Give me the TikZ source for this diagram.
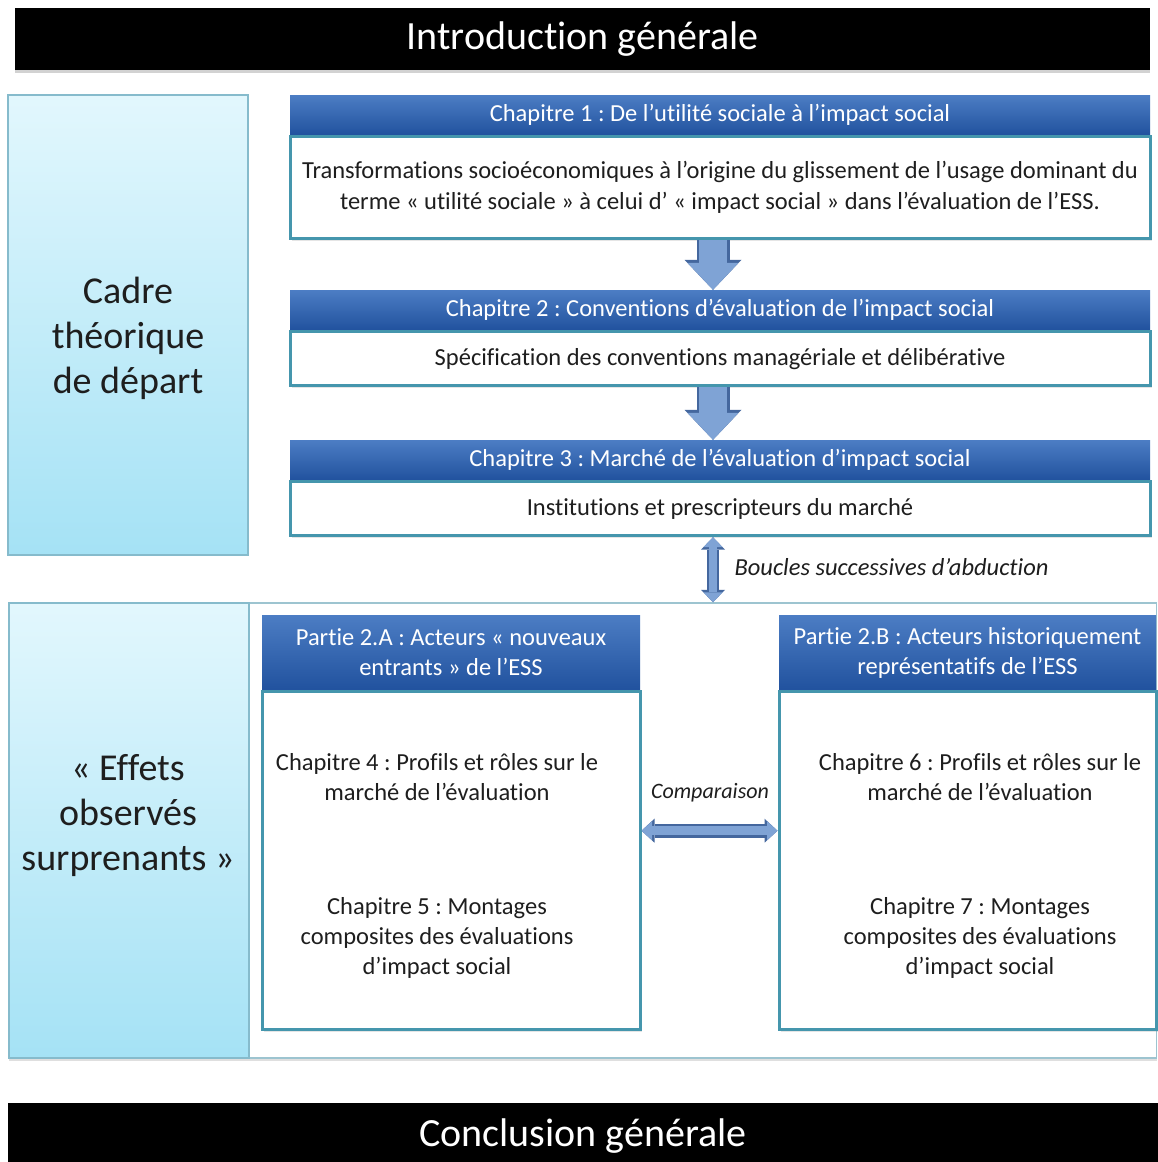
\documentclass[tikz,border=0pt]{standalone}
\usepackage{fontspec}
\setmainfont{Carlito}[Ligatures=NoCommon]
\usetikzlibrary{positioning,arrows.meta,shadows}
\frenchspacing

\definecolor{hdrtop}{HTML}{4C7DC4}
\definecolor{hdrbot}{HTML}{21529E}
\definecolor{bodyline}{HTML}{4596AD}
\definecolor{cyantop}{HTML}{E2F7FD}
\definecolor{cyanbot}{HTML}{A5E2F5}
\definecolor{cyanline}{HTML}{86BBCC}
\definecolor{framecol}{HTML}{9DC4D0}
\definecolor{arrfill}{HTML}{7FA3D5}
\definecolor{arrline}{HTML}{44679E}
\definecolor{txtgrey}{HTML}{1E1E1E}

\tikzset{
  bar/.style={fill=black, text=white, inner sep=0pt, font=\fontsize{40}{45}\selectfont,
    drop shadow={opacity=.35, shadow xshift=0pt, shadow yshift=-3pt}},
  side/.style={draw=cyanline, line width=1.2pt, top color=cyantop, bottom color=cyanbot,
    minimum width=240pt, inner sep=0pt},
  bigtxt/.style={align=center, text=txtgrey, font=\fontsize{38}{45}\selectfont},
  hdr/.style={top color=hdrtop, bottom color=hdrbot, text=white, align=center,
    inner sep=0pt, font=\fontsize{24.5}{30}\selectfont},
  chbody/.style={draw=bodyline, line width=3pt, fill=white, align=center, inner sep=0pt,
    text=txtgrey, font=\fontsize{24.5}{31}\selectfont,
    drop shadow={opacity=.2, shadow xshift=2pt, shadow yshift=-2pt}},
  txt/.style={align=center, text=txtgrey, font=\fontsize{24.5}{30}\selectfont},
  lbl/.style={text=txtgrey, font=\fontsize{24.5}{28}\selectfont\itshape},
  downarr/.style={draw=arrfill, line width=28pt,
    -{Triangle[length=27pt,width=51pt,line width=0pt]},
    preaction={draw=arrline, line width=33pt, -{Triangle[length=30pt,width=57pt,line width=0pt]}}},
  vduo/.style={draw=arrfill, line width=8pt,
    {Triangle[length=10pt,width=19pt,line width=0pt]}-{Triangle[length=10pt,width=19pt,line width=0pt]},
    preaction={draw=arrline, line width=12pt,
      {Triangle[length=12.5pt,width=24pt,line width=0pt]}-{Triangle[length=12.5pt,width=24pt,line width=0pt]}}},
  hduo/.style={draw=arrfill, line width=9pt,
    {Triangle[length=10.5pt,width=19pt,line width=0pt]}-{Triangle[length=10.5pt,width=19pt,line width=0pt]},
    preaction={draw=arrline, line width=14pt,
      {Triangle[length=13pt,width=24pt,line width=0pt]}-{Triangle[length=13pt,width=24pt,line width=0pt]}}}
}

\begin{document}
\begin{tikzpicture}[x=1pt, y=-1pt]
\useasboundingbox (0,0) rectangle (1158,1162);
\fill[white] (0,0) rectangle (1158,1162);

\node (intro) [bar, minimum width=1135pt, minimum height=62pt] at (582.5,39) {Introduction générale};

\node (cadre) [side, minimum height=460pt] at (128,325) {};
\node (cadretxt) [bigtxt] at (128,338) {Cadre\\théorique\\de départ};

\node (ch1h) [hdr, minimum width=860pt, minimum height=40pt] at (720,115) {Chapitre 1 : De l’utilité sociale à l’impact social};
\node (ch1b) [chbody, minimum width=860pt, minimum height=102pt, below=0pt of ch1h] {Transformations socioéconomiques à l’origine du glissement de l’usage dominant du\\terme « utilité sociale » à celui d’ « impact social » dans l’évaluation de l’ESS.};

\node (ch2h) [hdr, minimum width=860pt, minimum height=40pt] at (720,310) {Chapitre 2 : Conventions d’évaluation de l’impact social};
\node (ch2b) [chbody, minimum width=860pt, minimum height=54pt, below=0pt of ch2h] {Spécification des conventions managériale et délibérative};

\node (ch3h) [hdr, minimum width=860pt, minimum height=40pt] at (720,460) {Chapitre 3 : Marché de l’évaluation d’impact social};
\node (ch3b) [chbody, minimum width=860pt, minimum height=54pt, below=0pt of ch3h] {Institutions et prescripteurs du marché};

\draw [downarr] ([xshift=-7pt]ch1b.south) -- ([xshift=-7pt]ch2h.north);
\draw [downarr] ([xshift=-7pt]ch2b.south) -- ([xshift=-7pt]ch3h.north);

\node (frame) [draw=framecol, line width=1.5pt, fill=white, minimum width=1148pt, minimum height=455pt,
  drop shadow={opacity=.25, shadow xshift=0pt, shadow yshift=-3pt}] at (582.5,830.5) {};
\node (effets) [side, minimum height=455pt] at (129,830.5) {};
\node (effetstxt) [bigtxt] at (128,816) {« Effets\\observés\\surprenants »};

\draw [vduo] ([xshift=-7pt]ch3b.south) -- ([xshift=-7pt]ch3b.south |- frame.north);
\node (boucles) [lbl, anchor=west] at (731,567) {Boucles successives d’abduction};

\node (pAh) [hdr, minimum width=378pt, minimum height=75pt] at (451,652.5) {Partie 2.A : Acteurs « nouveaux\\entrants » de l’ESS};
\node (pAb) [chbody, minimum width=378pt, minimum height=338pt, below=0pt of pAh] {};
\node (ch4) [txt] at (437,777) {Chapitre 4 : Profils et rôles sur le\\marché de l’évaluation};
\node (ch5) [txt] at (437,938) {Chapitre 5 : Montages\\composites des évaluations\\d’impact social};

\node (pBh) [hdr, minimum width=377pt, minimum height=75pt] at (967.5,652.5) {Partie 2.B : Acteurs historiquement\\représentatifs de l’ESS};
\node (pBb) [chbody, minimum width=377pt, minimum height=338pt, below=0pt of pBh] {};
\node (ch6) [txt] at (980,777) {Chapitre 6 : Profils et rôles sur le\\marché de l’évaluation};
\node (ch7) [txt] at (980,938) {Chapitre 7 : Montages\\composites des évaluations\\d’impact social};

\draw [hduo] ([yshift=30pt]pAb.east) -- ([yshift=30pt]pBb.west);
\node (comp) [lbl, font=\fontsize{22}{26}\selectfont\itshape] at (710,793) {Comparaison};

\node (concl) [bar, minimum width=1150pt, minimum height=67pt] at (583,1136.5) {Conclusion générale};
\end{tikzpicture}
\end{document}
